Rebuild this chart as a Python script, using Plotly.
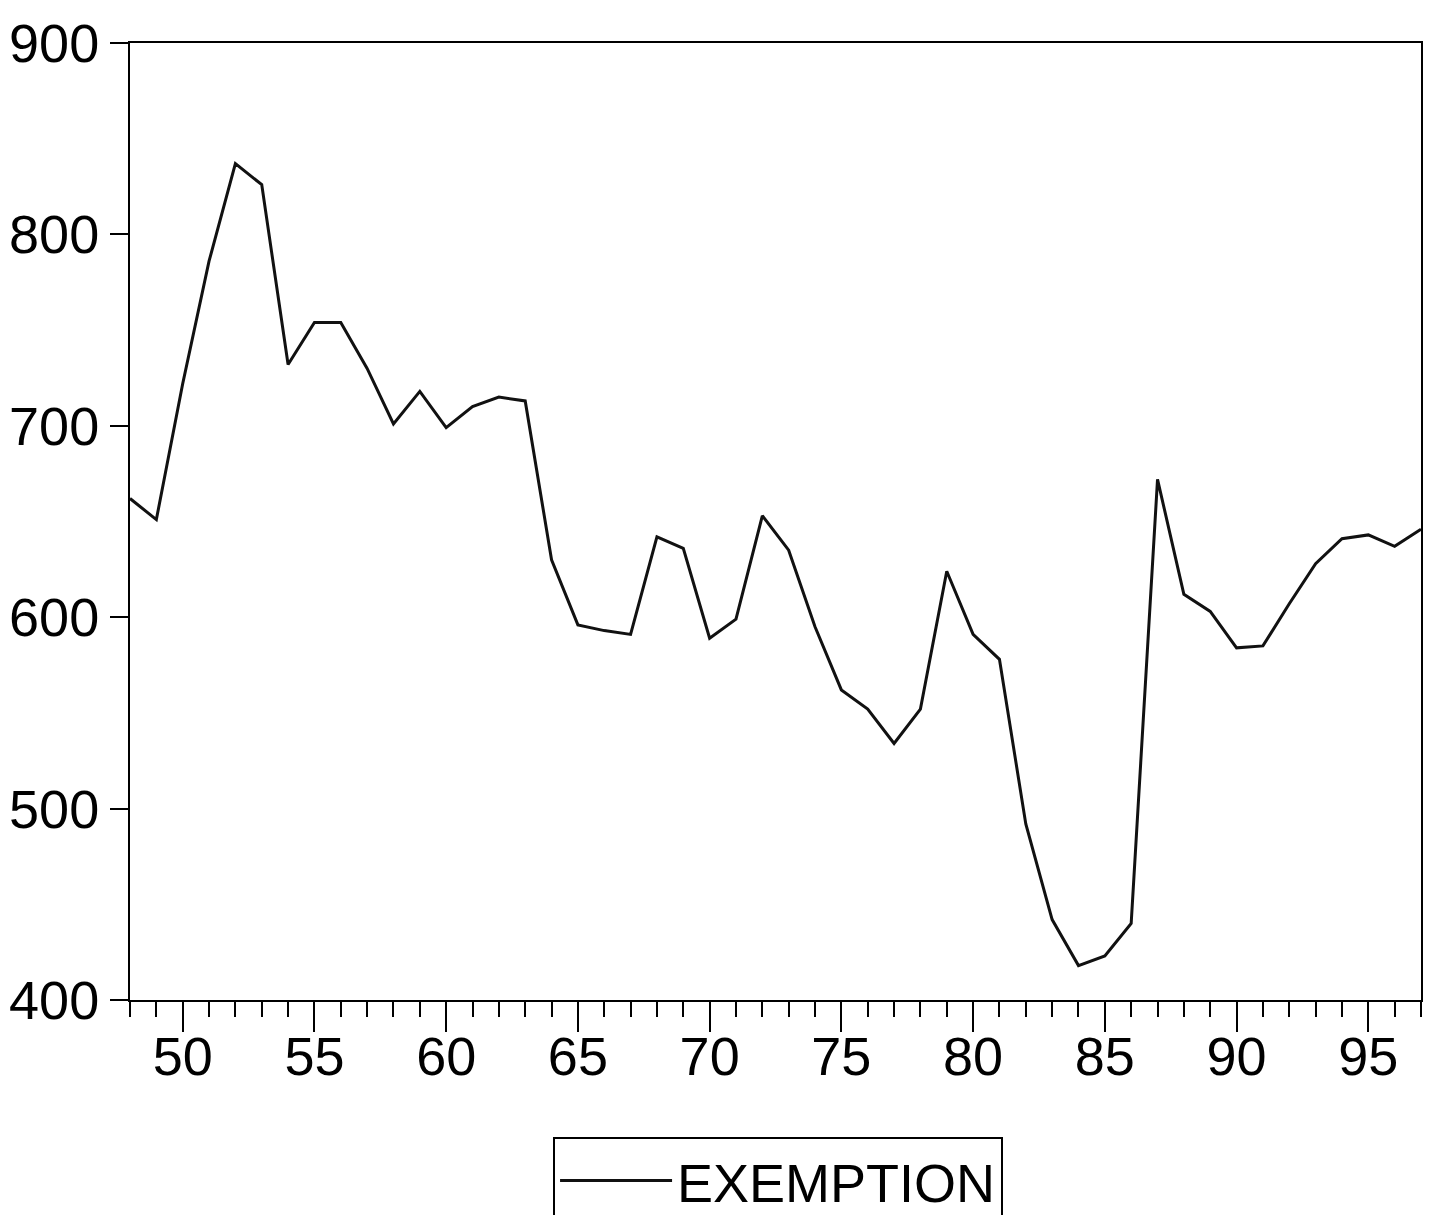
import plotly.graph_objects as go

years = list(range(48, 98))
exemption = [662, 651, 722, 786, 837, 826, 732, 754, 754, 730,
             701, 718, 699, 710, 715, 713, 630, 596, 593, 591,
             642, 636, 589, 599, 653, 635, 595, 562, 552, 534,
             552, 624, 591, 578, 492, 442, 418, 423, 440, 672,
             612, 603, 584, 585, 607, 628, 641, 643, 637, 646]
series_name = "EXEMPTION"
y_ticks = [400, 500, 600, 700, 800, 900]
x_ticks = [50, 55, 60, 65, 70, 75, 80, 85, 90, 95]

FONT = "Liberation Sans, Arial, sans-serif"

fig = go.Figure()
fig.add_trace(go.Scatter(x=years, y=exemption, mode="lines", name=series_name,
                         line=dict(color="#111111", width=3), showlegend=True))

fig.update_layout(
    width=1431, height=1215,
    margin=dict(l=130, r=10, t=43, b=215, autoexpand=False),
    paper_bgcolor="white", plot_bgcolor="white",
    font=dict(family=FONT, size=54, color="black"),
    showlegend=True,
    legend=dict(x=0.3277, y=-0.143, xanchor="left", yanchor="top",
                bordercolor="black", borderwidth=2, bgcolor="white",
                font=dict(size=54, family=FONT, color="black"),
                itemwidth=112),
)
fig.update_xaxes(range=[48, 97], tickvals=x_ticks, ticktext=[str(v) for v in x_ticks],
                 ticks="outside", ticklen=30, tickwidth=2, tickcolor="black",
                 ticklabelstandoff=-22,
                 minor=dict(dtick=1, tick0=48, ticks="outside", ticklen=15, tickwidth=2, tickcolor="black"),
                 showgrid=False, zeroline=False, showline=True, linecolor="black", linewidth=2,
                 mirror=True, tickfont=dict(size=54, family=FONT))
fig.update_yaxes(range=[400, 900], tickvals=y_ticks, ticktext=[str(v) for v in y_ticks],
                 ticks="outside", ticklen=18, tickwidth=2, tickcolor="black",
                 showgrid=False, zeroline=False, showline=True, linecolor="black", linewidth=2,
                 mirror=True, tickfont=dict(size=54, family=FONT))

fig.write_html("out.html", config={"displayModeBar": False},
               post_script="document.body.style.margin='0';document.body.style.overflow='hidden';")
